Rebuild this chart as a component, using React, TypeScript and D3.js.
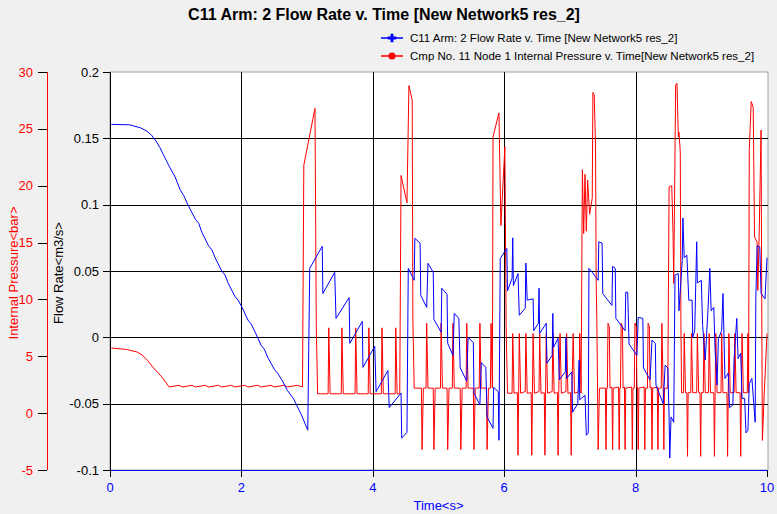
import React, { useEffect, useRef } from "react";
import * as d3 from "d3";

// time axis
const timeTicks = [0, 2, 4, 6, 8, 10];
const flowTicks = [-0.1, -0.05, 0, 0.05, 0.1, 0.15, 0.2];
const flowTickLabels = ["-0.1", "-0.05", "0", "0.05", "0.1", "0.15", "0.2"];
const pressureTicks = [-5, 0, 5, 10, 15, 20, 25, 30];

const titleText = "C11 Arm: 2 Flow Rate v. Time [New Network5 res_2]";
const flowName = "C11 Arm: 2 Flow Rate v. Time [New Network5 res_2]";
const pressureName = "Cmp No. 11 Node 1 Internal Pressure v. Time[New Network5 res_2]";

// [time s, flow m3/s]
const flowSeries: [number, number][] = [
  [0.02, 0.1605], [0.3, 0.1602], [0.46, 0.158], [0.56, 0.1555], [0.63, 0.1525],
  [0.7, 0.148], [0.76, 0.143], [0.81, 0.138], [0.9, 0.129], [0.99, 0.121],
  [1.07, 0.111], [1.12, 0.107], [1.19, 0.0995], [1.3, 0.089], [1.35, 0.086],
  [1.4, 0.079], [1.5, 0.069], [1.55, 0.066], [1.6, 0.06], [1.7, 0.05],
  [1.75, 0.047], [1.8, 0.0407], [1.9, 0.031], [1.95, 0.028], [2.01, 0.0226],
  [2.1, 0.013], [2.15, 0.01], [2.21, 0.0038], [2.3, -0.006], [2.35, -0.009],
  [2.4, -0.015], [2.5, -0.024], [2.55, -0.027], [2.62, -0.0324], [2.7, -0.04],
  [2.79, -0.046], [2.91, -0.058],
  [3.01, -0.07], [3.04, 0.052], [3.23, 0.0686], [3.24, 0.033], [3.42, 0.049],
  [3.44, 0.0143], [3.64, 0.03], [3.65, -0.0045], [3.84, 0.012], [3.85, -0.0226],
  [4.03, -0.0068], [4.05, -0.041], [4.23, -0.025], [4.25, -0.053], [4.43, -0.042],
  [4.44, -0.076], [4.52, -0.0716], [4.54, 0.052], [4.63, 0.043], [4.64, 0.0746],
  [4.72, 0.071], [4.73, 0.0317], [4.82, 0.0226], [4.84, 0.0558], [4.92, 0.049],
  [4.93, 0.0136], [5.04, 0.0038], [5.05, 0.037], [5.13, 0.0324], [5.14, -0.0045],
  [5.22, -0.0136], [5.24, 0.018], [5.31, 0.0143], [5.33, -0.023], [5.43, -0.033],
  [5.45, 0], [5.53, -0.004], [5.54, -0.042], [5.63, -0.051], [5.65, -0.019],
  [5.72, -0.0226], [5.74, -0.06], [5.83, -0.0686], [5.84, -0.0377], [5.91, -0.041],
  [5.92, -0.0776], [5.94, 0.0595], [6.04, 0.067], [6.05, 0.035], [6.12, 0.0445],
  [6.13, 0.075], [6.14, 0.039], [6.21, 0.048], [6.23, 0.0166], [6.32, 0.022],
  [6.33, 0.056], [6.35, 0.028], [6.44, 0.029], [6.45, 0.005], [6.52, 0.0106],
  [6.53, 0.037], [6.54, 0.003], [6.64, 0.0106], [6.65, -0.0196], [6.73, -0.0136],
  [6.74, 0.018], [6.75, -0.0075], [6.82, -0.0008], [6.84, -0.032], [6.93, -0.026],
  [6.94, 0], [6.95, -0.031], [7.03, -0.026], [7.04, -0.0565], [7.12, -0.05],
  [7.14, -0.0173], [7.15, -0.047], [7.23, -0.0437], [7.25, -0.0738], [7.28, -0.072],
  [7.29, 0.052], [7.34, 0.049], [7.43, 0.043], [7.44, 0.072], [7.49, 0.071],
  [7.5, 0.033], [7.64, 0.024], [7.65, 0.0535], [7.69, 0.052], [7.7, 0.0143],
  [7.84, 0.005], [7.85, 0.034], [7.88, 0.034], [7.9, -0.005], [8.02, -0.0136],
  [8.04, 0.015], [8.11, 0.0143], [8.12, -0.023], [8.22, -0.032], [8.25, -0.002],
  [8.3, -0.0045], [8.31, -0.036], [8.42, -0.05], [8.45, -0.021], [8.49, -0.023],
  [8.51, -0.06], [8.52, -0.091], [8.54, -0.06], [8.58, -0.064], [8.6, 0.047],
  [8.65, 0.048], [8.66, 0.02], [8.71, 0.058], [8.72, 0.09], [8.74, 0.06],
  [8.78, 0.062], [8.81, 0.028], [8.86, 0.028], [8.87, 0], [8.9, 0.005],
  [8.93, 0.072], [8.94, 0.041], [9.0, 0.043], [9.02, 0.009], [9.06, -0.017],
  [9.1, 0.019], [9.13, 0.052], [9.15, 0.02], [9.19, 0.0226], [9.21, -0.01],
  [9.24, -0.036], [9.26, -0.001], [9.31, 0.005], [9.33, 0.033], [9.36, -0.031],
  [9.41, -0.027], [9.43, -0.053], [9.48, -0.051], [9.5, -0.015], [9.54, 0.0143],
  [9.56, -0.016], [9.6, -0.012], [9.62, -0.046], [9.66, -0.046], [9.68, -0.072],
  [9.71, -0.07], [9.73, -0.035], [9.77, -0.031], [9.82, -0.064], [9.83, 0.03],
  [9.85, 0.069], [9.89, 0.068], [9.91, 0.033], [9.97, 0.029], [10.0, 0.06],
];

// [time s, pressure bar]
const pressureSeries: [number, number][] = [
  [0.02, 5.73], [0.25, 5.6], [0.41, 5.38], [0.49, 5.11], [0.57, 4.65], [0.65, 4.06],
  [0.79, 3.18], [0.9, 2.3],
  [1.05, 2.45], [1.1, 2.3], [1.25, 2.45], [1.3, 2.3], [1.45, 2.45], [1.5, 2.3],
  [1.65, 2.45], [1.7, 2.3], [1.85, 2.45], [1.9, 2.3], [2.05, 2.45], [2.1, 2.3],
  [2.25, 2.45], [2.3, 2.3], [2.45, 2.45], [2.5, 2.3], [2.65, 2.45], [2.7, 2.3],
  [2.85, 2.45], [2.93, 2.3],
  [2.95, 21.8], [3.12, 26.8], [3.14, 7.6], [3.16, 1.7],
  [3.32, 1.7], [3.33, 7.5], [3.35, 1.7], [3.52, 1.7], [3.53, 7.5], [3.55, 1.7],
  [3.73, 1.7], [3.74, 7.5], [3.76, 1.7], [3.93, 1.7], [3.94, 7.5], [3.96, 1.7],
  [4.13, 1.7], [4.14, 7.5], [4.16, 1.7], [4.34, 1.7], [4.35, 7.5], [4.37, 1.7],
  [4.41, 1.7],
  [4.43, 20.9], [4.52, 18.5], [4.55, 28.8], [4.6, 27.5], [4.61, 8.2], [4.63, 2.2],
  [4.74, 2.2], [4.75, -3.2], [4.77, 2.2], [4.81, 2.2], [4.82, 7.9], [4.84, 2.2],
  [4.92, 2.2], [4.93, -3.2], [4.95, 2.2], [5.03, 2.2], [5.04, 7.9], [5.06, 2.2],
  [5.13, 2.2], [5.14, -3.2], [5.16, 2.2], [5.21, 2.2], [5.22, 7.9], [5.24, 2.2],
  [5.33, 2.2], [5.34, -3.2], [5.36, 2.2], [5.42, 2.2], [5.43, 7.9], [5.45, 2.2],
  [5.53, 2.2], [5.54, -3.2], [5.56, 2.2], [5.62, 2.2], [5.63, 7.9], [5.65, 2.2],
  [5.73, 2.2], [5.74, -3.2], [5.76, 2.2], [5.79, 2.2], [5.8, 7.9], [5.82, 2.2],
  [5.83, 24.3], [5.92, 26.4], [5.95, 16.5], [6.01, 23.4], [6.03, 7.6], [6.05, 1.75],
  [6.12, 1.75], [6.13, 7.0], [6.15, 1.75], [6.2, 1.8], [6.21, -3.7], [6.22, 1.75],
  [6.23, 7.0], [6.25, 1.75], [6.32, 1.9], [6.33, 7.0], [6.35, 1.75], [6.41, 1.8],
  [6.42, -3.7], [6.43, 1.75], [6.44, 7.0], [6.46, 1.75], [6.53, 1.9], [6.54, 7.0],
  [6.56, 1.75], [6.61, 1.8], [6.62, -3.7], [6.63, 1.75], [6.64, 7.0], [6.66, 1.75],
  [6.73, 1.9], [6.74, 7.0], [6.76, 1.75], [6.81, 1.8], [6.82, -3.7], [6.83, 1.75],
  [6.85, 7.0], [6.87, 1.75], [6.94, 1.9], [6.95, 7.0], [6.97, 1.75], [7.01, 1.8],
  [7.02, -3.7], [7.03, 1.75], [7.05, 7.0], [7.07, 1.75], [7.14, 1.9], [7.15, 7.0],
  [7.17, 1.75],
  [7.19, 21.4], [7.21, 15.8], [7.23, 21.0], [7.25, 16.0], [7.27, 20.5], [7.3, 17.5],
  [7.34, 18.9], [7.35, 28.2], [7.37, 28.0], [7.39, 23.5], [7.4, 11.4], [7.41, 8.2],
  [7.43, -3.2], [7.45, 2.2],
  [7.54, 2.2], [7.55, -3.2], [7.56, 2.2], [7.57, 2.2], [7.58, 7.9], [7.6, 7.6],
  [7.61, 2.2], [7.64, 2.3], [7.65, -3.2], [7.66, 2.2], [7.74, 2.3], [7.75, -3.2],
  [7.76, 2.2], [7.77, 2.2], [7.78, 7.9], [7.8, 7.6], [7.81, 2.2], [7.83, 2.3],
  [7.84, -3.2], [7.85, 2.2], [7.94, 2.3], [7.95, -3.2], [7.96, 2.2], [7.98, 2.2],
  [7.99, 7.9], [8.01, 7.6], [8.02, 2.2], [8.03, 2.3], [8.04, -3.2], [8.05, 2.2],
  [8.13, 2.3], [8.14, -3.2], [8.15, 2.2], [8.18, 2.2], [8.19, 7.9], [8.21, 7.6],
  [8.22, 2.2], [8.24, 2.3], [8.25, -3.2], [8.26, 2.2], [8.33, 2.3], [8.34, -3.2],
  [8.35, 2.2], [8.39, 2.2], [8.4, 7.9], [8.42, 2.2], [8.43, -3.2], [8.44, 2.2],
  [8.49, 2.2],
  [8.51, 19.9], [8.55, 20.0], [8.57, 15.8], [8.58, 11.4], [8.61, 28.9], [8.63, 29.0],
  [8.65, 24.3], [8.66, 24.7], [8.68, 23.0], [8.69, 7.6], [8.7, 1.8],
  [8.73, 1.8], [8.74, 7.0], [8.76, 1.8], [8.78, 1.8], [8.79, -3.8], [8.8, 1.8],
  [8.84, 1.8], [8.85, 7.0], [8.87, 1.8], [8.93, 1.8], [8.94, 7.0], [8.96, 1.8],
  [8.98, 1.8], [8.99, -3.8], [9.0, 1.8], [9.03, 1.8], [9.04, 7.0], [9.06, 1.8],
  [9.11, 1.8], [9.12, 7.0], [9.14, 1.8], [9.19, 1.8], [9.2, -3.8], [9.21, 1.8],
  [9.22, 7.0], [9.24, 1.8], [9.3, 1.8], [9.31, 7.0], [9.33, 1.8], [9.39, 1.8],
  [9.4, -3.8], [9.41, 1.8], [9.42, 7.0], [9.44, 1.8], [9.5, 1.8], [9.51, 7.0],
  [9.53, 1.8], [9.59, 1.8], [9.6, -3.8], [9.61, 1.8], [9.62, 7.0], [9.64, 1.8],
  [9.7, 1.8], [9.71, 7.0], [9.72, 1.8],
  [9.73, 23.1], [9.76, 27.4], [9.79, 26.9], [9.8, 21.4], [9.81, 15.5], [9.85, 15.0],
  [9.86, 10.8], [9.88, 15.5], [9.91, 24.9], [9.92, 9.7], [9.93, -2.4], [9.96, 2.0],
  [10.0, 7.0],
];

const W = 777;
const H = 514;
const FONT = "'Liberation Sans', Arial, sans-serif";

const App = () => {
  const ref = useRef<SVGSVGElement>(null);

  useEffect(() => {
    const svg = d3.select(ref.current);
    svg.selectAll("*").remove();

    const left = 110;
    const right = 767;
    const top = 72;
    const bottom = 470;

    const x = d3.scaleLinear().domain([0, 10]).range([left, right]);
    const yFlow = d3.scaleLinear().domain([-0.1, 0.2]).range([bottom, top]);
    const yPres = d3.scaleLinear().domain([-5, 30]).range([bottom, top]);

    svg.append("rect").attr("width", W).attr("height", H).attr("fill", "#f0f0f0");

    // plot background + border
    svg
      .append("rect")
      .attr("x", left)
      .attr("y", top)
      .attr("width", 768 - left)
      .attr("height", bottom - top)
      .attr("fill", "#fff")
      .attr("stroke", "#a0a0a0");

    // grid
    svg
      .append("g")
      .selectAll("line")
      .data(flowTicks.slice(1, -1))
      .enter()
      .append("line")
      .attr("x1", left)
      .attr("x2", 768)
      .attr("y1", (d) => Math.round(yFlow(d)) + 0.5)
      .attr("y2", (d) => Math.round(yFlow(d)) + 0.5)
      .attr("stroke", "#000");

    svg
      .append("g")
      .selectAll("line")
      .data(timeTicks.slice(1, -1))
      .enter()
      .append("line")
      .attr("x1", (d) => Math.round(x(d)) + 0.5)
      .attr("x2", (d) => Math.round(x(d)) + 0.5)
      .attr("y1", top)
      .attr("y2", bottom)
      .attr("stroke", "#000");

    // data
    svg
      .append("clipPath")
      .attr("id", "plotClip")
      .append("rect")
      .attr("x", left)
      .attr("y", top)
      .attr("width", 768 - left)
      .attr("height", bottom - top);

    const plot = svg.append("g").attr("clip-path", "url(#plotClip)");

    const presLine = d3
      .line<[number, number]>()
      .x((d) => x(d[0]))
      .y((d) => yPres(d[1]));
    const flowLine = d3
      .line<[number, number]>()
      .x((d) => x(d[0]))
      .y((d) => yFlow(d[1]));

    plot
      .append("path")
      .attr("d", presLine(pressureSeries))
      .attr("fill", "none")
      .attr("stroke", "#ff0000")
      .attr("stroke-width", 1);

    plot
      .append("path")
      .attr("d", flowLine(flowSeries))
      .attr("fill", "none")
      .attr("stroke", "#0000ff")
      .attr("stroke-width", 1);

    // x axis
    svg
      .append("line")
      .attr("x1", left)
      .attr("x2", 768)
      .attr("y1", bottom + 0.5)
      .attr("y2", bottom + 0.5)
      .attr("stroke", "#0000ff");

    const xt = svg.append("g");
    xt.selectAll("line")
      .data(timeTicks)
      .enter()
      .append("line")
      .attr("x1", (d) => Math.round(x(d)) + 0.5)
      .attr("x2", (d) => Math.round(x(d)) + 0.5)
      .attr("y1", bottom)
      .attr("y2", bottom + 7)
      .attr("stroke", "#000");
    xt.selectAll("text")
      .data(timeTicks)
      .enter()
      .append("text")
      .attr("x", (d) => x(d))
      .attr("y", bottom + 22)
      .attr("text-anchor", "middle")
      .attr("fill", "#0000ff")
      .attr("font-size", 13)
      .attr("font-family", FONT)
      .text((d) => String(d));

    svg
      .append("text")
      .attr("x", (left + right) / 2)
      .attr("y", 510)
      .attr("text-anchor", "middle")
      .attr("fill", "#0000ff")
      .attr("font-size", 13)
      .attr("font-family", FONT)
      .text("Time<s>");

    // flow axis
    svg
      .append("line")
      .attr("x1", left + 0.5)
      .attr("x2", left + 0.5)
      .attr("y1", top)
      .attr("y2", bottom + 7)
      .attr("stroke", "#000");
    const ft = svg.append("g");
    ft.selectAll("line")
      .data(flowTicks)
      .enter()
      .append("line")
      .attr("x1", left - 7)
      .attr("x2", left)
      .attr("y1", (d) => Math.round(yFlow(d)) + 0.5)
      .attr("y2", (d) => Math.round(yFlow(d)) + 0.5)
      .attr("stroke", "#000");
    ft.selectAll("text")
      .data(flowTicks)
      .enter()
      .append("text")
      .attr("x", left - 11)
      .attr("y", (d) => yFlow(d) + 4.5)
      .attr("text-anchor", "end")
      .attr("fill", "#000")
      .attr("font-size", 13)
      .attr("font-family", FONT)
      .text((d, i) => flowTickLabels[i]);

    svg
      .append("text")
      .attr("transform", `translate(63,${(top + bottom) / 2 + 2}) rotate(-90)`)
      .attr("text-anchor", "middle")
      .attr("fill", "#000")
      .attr("font-size", 13)
      .attr("font-family", FONT)
      .text("Flow Rate<m3/s>");

    // pressure axis
    const px = 47;
    svg
      .append("line")
      .attr("x1", px + 0.5)
      .attr("x2", px + 0.5)
      .attr("y1", top)
      .attr("y2", bottom)
      .attr("stroke", "#ff0000");
    const pt = svg.append("g");
    pt.selectAll("line")
      .data(pressureTicks)
      .enter()
      .append("line")
      .attr("x1", px - 9)
      .attr("x2", px)
      .attr("y1", (d) => Math.round(yPres(d)) + 0.5)
      .attr("y2", (d) => Math.round(yPres(d)) + 0.5)
      .attr("stroke", "#000");
    pt.selectAll("text")
      .data(pressureTicks)
      .enter()
      .append("text")
      .attr("x", px - 14)
      .attr("y", (d) => yPres(d) + 4.5)
      .attr("text-anchor", "end")
      .attr("fill", "#ff0000")
      .attr("font-size", 13)
      .attr("font-family", FONT)
      .text((d) => String(d));

    svg
      .append("text")
      .attr("transform", `translate(18,${(top + bottom) / 2 + 2}) rotate(-90)`)
      .attr("text-anchor", "middle")
      .attr("fill", "#ff0000")
      .attr("font-size", 13)
      .attr("font-family", FONT)
      .text("Internal Pressure<bar>");

    // title
    svg
      .append("text")
      .attr("x", 384)
      .attr("y", 20)
      .attr("text-anchor", "middle")
      .attr("font-size", 16)
      .attr("font-weight", "bold")
      .attr("font-family", FONT)
      .text(titleText);

    // legend
    const legend = [
      { name: flowName, color: "#0000ff", sym: d3.symbolCross, y: 38 },
      { name: pressureName, color: "#ff0000", sym: d3.symbolCircle, y: 56 },
    ];
    const lg = svg.append("g");
    legend.forEach((l) => {
      lg.append("line")
        .attr("x1", 381)
        .attr("x2", 403)
        .attr("y1", l.y)
        .attr("y2", l.y)
        .attr("stroke", l.color)
        .attr("stroke-width", 1.5);
      lg.append("path")
        .attr("d", d3.symbol().type(l.sym).size(40)())
        .attr("transform", `translate(392,${l.y})`)
        .attr("fill", l.color);
      lg.append("text")
        .attr("x", 410)
        .attr("y", l.y + 4)
        .attr("font-size", 11.5)
        .attr("font-family", FONT)
        .attr("fill", "#000")
        .text(l.name);
    });
  }, []);

  return (
    <svg
      ref={ref}
      width={W}
      height={H}
      style={{ position: "absolute", left: 0, top: 0 }}
    ></svg>
  );
};

export default App;
